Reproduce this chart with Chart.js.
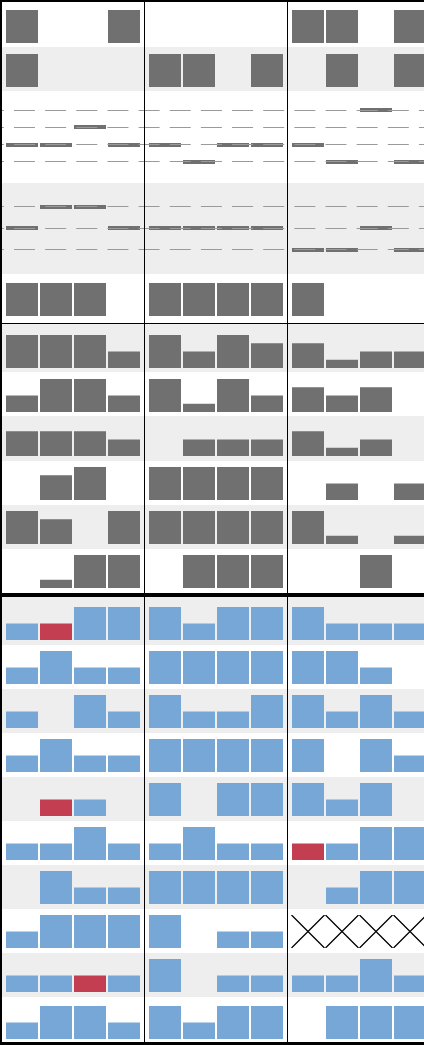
<!DOCTYPE html>
<html>
<head>
<meta charset="utf-8">
<script src="https://cdn.jsdelivr.net/npm/chart.js@4/dist/chart.umd.min.js"></script>
<style>
  html, body { margin: 0; padding: 0; background: #ffffff; }
  #wrap { position: relative; width: 424px; height: 1045px; overflow: hidden; background: #ffffff; font-family: "DejaVu Sans", sans-serif; }
  .stripe, .rule, canvas { position: absolute; display: block; }
  .rule { background: #000000; z-index: 5; }
</style>
</head>
<body>
<div id="wrap"></div>
<script>
// ---------------- DATA ----------------
const columns = ['1', '2', '3', '4'];
const panels = ['A', 'B', 'C'];

// grey bar rows, values 0–4 (per panel: 4 columns)
const row01 = [[4,0,0,4],[0,0,0,0],[4,4,0,4]];
const row02 = [[4,0,0,0],[4,4,0,4],[0,4,0,4]];
// marker rows (level of the marker)
const row03Levels = [[2,2,3,2],[2,1,2,2],[2,1,4,1]];   // levels 1–4
const row04Levels = [[2,3,3,2],[2,2,2,2],[1,1,2,1]];   // levels 1–3
const row05 = [[4,4,4,0],[4,4,4,4],[4,0,0,0]];
const row06 = [[4,4,4,2],[4,2,4,3],[3,1,2,2]];
const row07 = [[2,4,4,2],[4,1,4,2],[3,2,3,0]];
const row08 = [[3,3,3,2],[0,2,2,2],[3,1,2,0]];
const row09 = [[0,3,4,0],[4,4,4,4],[0,2,0,2]];
const row10 = [[4,3,0,4],[4,4,4,4],[4,1,0,1]];
const row11 = [[0,1,4,4],[0,4,4,4],[0,0,4,0]];
// blue bar rows, values 0–2 (null = missing)
const row12 = [[1,1,2,2],[2,1,2,2],[2,1,1,1]];
const row13 = [[1,2,1,1],[2,2,2,2],[2,2,1,0]];
const row14 = [[1,0,2,1],[2,1,1,2],[2,1,2,1]];
const row15 = [[1,2,1,1],[2,2,2,2],[2,0,2,1]];
const row16 = [[0,1,1,0],[2,0,2,2],[2,1,2,0]];
const row17 = [[1,1,2,1],[1,2,1,1],[1,1,2,2]];
const row18 = [[0,2,1,1],[2,2,2,2],[0,1,2,2]];
const row19 = [[1,2,2,2],[2,0,1,1],[null,null,null,null]];
const row20 = [[1,1,1,1],[2,0,1,1],[1,1,2,1]];
const row21 = [[1,2,2,1],[2,1,2,2],[0,2,2,2]];
// highlighted (red) bars: [row, panel index, column index]
const redBars = [[12,0,1],[16,0,1],[17,2,0],[20,0,2]];

// ---------------- STYLE / LAYOUT ----------------
const GREY = '#707070', BLUE = '#76a7d6', RED = '#c33e50', STRIPE = '#eeeeee', GRID = '#9a9a9a';
const panelX = [2, 145, 288];
const panelW = 142;

const rows = [
  { n: 1,  data: row01, top: 2,   h: 45, stripe: false, kind: 'bar', cTop: 10,  cH: 33, max: 4, color: GREY },
  { n: 2,  data: row02, top: 47,  h: 44, stripe: true,  kind: 'bar', cTop: 54,  cH: 33, max: 4, color: GREY },
  { n: 3,  data: row03Levels, top: 91,  h: 92, stripe: false, kind: 'dot', cTop: 90,  cH: 92, max: 5 },
  { n: 4,  data: row04Levels, top: 183, h: 91, stripe: true,  kind: 'dot', cTop: 182, cH: 92, max: 4 },
  { n: 5,  data: row05, top: 274, h: 50, stripe: false, kind: 'bar', cTop: 283, cH: 33, max: 4, color: GREY },
  { n: 6,  data: row06, top: 324, h: 48, stripe: true,  kind: 'bar', cTop: 335, cH: 33, max: 4, color: GREY },
  { n: 7,  data: row07, top: 372, h: 44, stripe: false, kind: 'bar', cTop: 379, cH: 33, max: 4, color: GREY },
  { n: 8,  data: row08, top: 416, h: 45, stripe: true,  kind: 'bar', cTop: 423, cH: 33, max: 4, color: GREY },
  { n: 9,  data: row09, top: 461, h: 44, stripe: false, kind: 'bar', cTop: 467, cH: 33, max: 4, color: GREY },
  { n: 10, data: row10, top: 505, h: 44, stripe: true,  kind: 'bar', cTop: 511, cH: 33, max: 4, color: GREY },
  { n: 11, data: row11, top: 549, h: 44, stripe: false, kind: 'bar', cTop: 555, cH: 33, max: 4, color: GREY },
  { n: 12, data: row12, top: 597, h: 48, stripe: true,  kind: 'bar', cTop: 607, cH: 33, max: 2, color: BLUE },
  { n: 13, data: row13, top: 645, h: 44, stripe: false, kind: 'bar', cTop: 651, cH: 33, max: 2, color: BLUE },
  { n: 14, data: row14, top: 689, h: 44, stripe: true,  kind: 'bar', cTop: 695, cH: 33, max: 2, color: BLUE },
  { n: 15, data: row15, top: 733, h: 44, stripe: false, kind: 'bar', cTop: 739, cH: 33, max: 2, color: BLUE },
  { n: 16, data: row16, top: 777, h: 44, stripe: true,  kind: 'bar', cTop: 783, cH: 33, max: 2, color: BLUE },
  { n: 17, data: row17, top: 821, h: 44, stripe: false, kind: 'bar', cTop: 827, cH: 33, max: 2, color: BLUE },
  { n: 18, data: row18, top: 865, h: 44, stripe: true,  kind: 'bar', cTop: 871, cH: 33, max: 2, color: BLUE },
  { n: 19, data: row19, top: 909, h: 44, stripe: false, kind: 'bar', cTop: 915, cH: 33, max: 2, color: BLUE },
  { n: 20, data: row20, top: 953, h: 44, stripe: true,  kind: 'bar', cTop: 959, cH: 33, max: 2, color: BLUE },
  { n: 21, data: row21, top: 997, h: 45, stripe: false, kind: 'bar', cTop: 1006, cH: 33, max: 2, color: BLUE }
];

// ---------------- PLUGINS ----------------
const missingCross = {
  id: 'missingCross',
  afterDatasetsDraw(chart) {
    const ds = chart.data.datasets[0];
    if (!ds || chart.config.type !== 'bar') return;
    const xs = chart.scales.x, ys = chart.scales.y, ctx = chart.ctx;
    const half = (xs.width / chart.data.labels.length) * ds.barPercentage / 2;
    const top = ys.getPixelForValue(ys.max), bottom = ys.getPixelForValue(0);
    ctx.save();
    ctx.strokeStyle = '#000000';
    ctx.lineWidth = 1.3;
    ds.data.forEach((v, i) => {
      if (v !== null) return;
      const cx = xs.getPixelForValue(i);
      ctx.beginPath();
      ctx.moveTo(cx - half - 0.5, top); ctx.lineTo(cx + half + 0.5, bottom);
      ctx.moveTo(cx - half - 0.5, bottom); ctx.lineTo(cx + half + 0.5, top);
      ctx.stroke();
    });
    ctx.restore();
  }
};

const dashGrid = {
  id: 'dashGrid',
  afterDatasetsDraw(chart, args, opts) {
    if (!opts || !opts.on) return;
    const ys = chart.scales.y, ctx = chart.ctx;
    const P = 31.15;
    ctx.save();
    ctx.strokeStyle = GRID;
    ctx.lineWidth = 1;
    ctx.setLineDash([21, P - 21]);
    ctx.lineDashOffset = (((opts.originX - 14) % P) + P) % P;
    for (let v = 1; v < ys.max; v++) {
      const py = Math.floor(ys.getPixelForValue(v)) + 0.5;
      ctx.beginPath();
      ctx.moveTo(0, py);
      ctx.lineTo(chart.width, py);
      ctx.stroke();
    }
    ctx.restore();
  }
};

// ---------------- BUILD ----------------
const wrap = document.getElementById('wrap');

function addDiv(cls, l, t, w, h, bg) {
  const d = document.createElement('div');
  d.className = cls;
  d.style.left = l + 'px'; d.style.top = t + 'px';
  d.style.width = w + 'px'; d.style.height = h + 'px';
  if (bg) d.style.background = bg;
  wrap.appendChild(d);
  return d;
}

function addCanvas(l, t, w, h) {
  const c = document.createElement('canvas');
  c.width = w; c.height = h;
  c.style.left = l + 'px'; c.style.top = t + 'px';
  c.style.width = w + 'px'; c.style.height = h + 'px';
  c.style.zIndex = 2;
  wrap.appendChild(c);
  return c;
}

const marker = document.createElement('canvas');
marker.width = 32; marker.height = 4;
(function () { const m = marker.getContext('2d'); m.fillStyle = GREY; m.fillRect(0, 0, 32, 4); })();

function isRed(rowN, p, c) {
  return redBars.some(r => r[0] === rowN && r[1] === p && r[2] === c);
}

const baseOptions = (max) => ({
  responsive: false,
  animation: false,
  devicePixelRatio: 1,
  events: [],
  layout: { padding: { left: 3, right: 3, top: 0, bottom: 0 } },
  plugins: { legend: { display: false }, tooltip: { enabled: false } },
  scales: {
    x: { display: false, offset: true },
    y: { display: false, min: 0, max: max }
  }
});

rows.forEach(row => {
  if (row.stripe) addDiv('stripe', 0, row.top, 424, row.h, STRIPE);
  panels.forEach((pn, p) => {
    const vals = row.data[p];
    if (row.kind === 'bar') {
      const cv = addCanvas(panelX[p], row.cTop, panelW, row.cH);
      const colors = vals.map((v, c) => isRed(row.n, p, c) ? RED : row.color);
      new Chart(cv, {
        type: 'bar',
        data: { labels: columns, datasets: [{ data: vals, backgroundColor: colors, borderWidth: 0, barPercentage: 32 / 34, categoryPercentage: 1 }] },
        options: baseOptions(row.max),
        plugins: [missingCross]
      });
    } else {
      const cv = addCanvas(panelX[p], row.cTop, panelW, row.cH);
      const opts = baseOptions(row.max);
      opts.plugins.dashGrid = { on: true, originX: panelX[p] };
      new Chart(cv, {
        type: 'line',
        data: { labels: columns, datasets: [{ data: vals, showLine: false, pointStyle: marker, pointRadius: 3, pointHoverRadius: 3, borderWidth: 0 }] },
        options: opts,
        plugins: [dashGrid]
      });
    }
  });
});

// frame rules
addDiv('rule', 0, 0, 424, 2);        // top border
addDiv('rule', 0, 0, 2, 1045);       // left border
addDiv('rule', 144, 0, 1, 1045);     // panel separators
addDiv('rule', 287, 0, 1, 1045);
addDiv('rule', 0, 323, 424, 1);      // thin section rule
addDiv('rule', 0, 593, 424, 4);      // thick section rule
addDiv('rule', 0, 1042, 424, 3);     // bottom border
</script>
</body>
</html>
